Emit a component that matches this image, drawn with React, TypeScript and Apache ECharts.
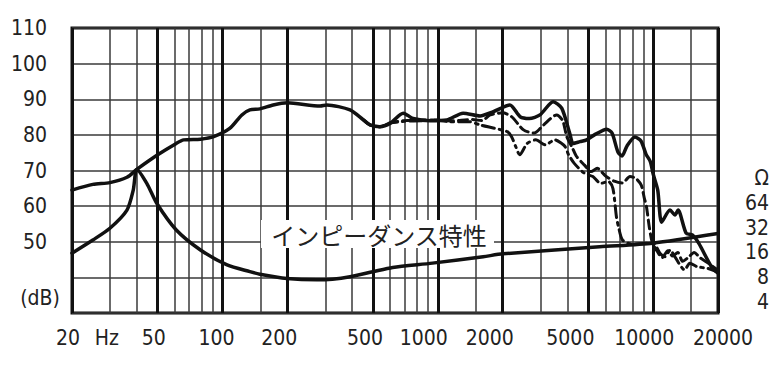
import React, { useEffect, useRef } from "react";
import * as echarts from "echarts";

// ---------- data ----------
const xTickLabels = [20, 50, 100, 200, 500, 1000, 2000, 5000, 10000, 20000];
const majorGridFreqs = [20, 50, 100, 200, 500, 1000, 2000, 5000, 10000, 20000];
const minorGridFreqs = [30, 40, 60, 70, 80, 90, 150, 300, 400, 600, 700, 800, 900, 1500, 3000, 4000, 6000, 7000, 8000, 9000, 15000];
const yTickLabels = [50, 60, 70, 80, 90, 100, 110];
const impedanceTickLabels = ["Ω", "64", "32", "16", "8", "4"];
const annotation = "インピーダンス特性";

const mainResponse: [number, number][] = [
  [20, 64.5], [25, 66.1], [30, 66.6], [36, 68.1], [40, 70.3], [50, 74.4], [61, 77.6], [66, 78.6],
  [79, 78.8], [91, 79.5], [108, 81.8], [123, 85.6], [134, 87.0], [149, 87.3], [172, 88.4], [200, 89.0],
  [284, 88.1], [305, 88.4], [391, 87.0], [451, 84.2], [484, 82.8], [538, 82.3], [600, 83.2], [691, 86.1],
  [767, 84.6], [920, 84.0], [1100, 84.2], [1310, 86.1], [1570, 85.3], [1810, 86.5], [2160, 88.4],
  [2410, 85.1], [2660, 84.6], [2980, 85.6], [3430, 89.3], [3760, 87.5], [4100, 80.4], [4250, 77.6],
  [4570, 78.1], [4910, 78.6], [5400, 80.2], [6080, 81.6], [6440, 80.5], [6860, 75.2], [7170, 74.1],
  [7560, 76.9], [8230, 79.4], [8780, 78.3], [9260, 74.6], [9700, 72.5], [10000, 69.0], [10500, 64.5],
  [10950, 55.5], [11970, 58.9], [12620, 57.5], [13050, 58.9], [14220, 52.4], [15200, 51.9],
  [16270, 49.6], [18640, 43.0], [20000, 41.2],
];

const dashedResponse: [number, number][] = [
  [451, 84.2], [484, 82.8], [538, 82.3], [600, 83.4], [700, 84.0], [850, 84.2], [1000, 84.2], [1138, 83.9],
  [1450, 84.3], [1600, 84.0], [1750, 85.6], [2000, 86.2], [2200, 85.1], [2500, 81.4], [2800, 80.5],
  [3100, 82.8], [3560, 85.6], [3800, 84.0], [3970, 79.5], [4190, 76.7], [4400, 74.0], [4800, 71.5],
  [5150, 69.7], [5500, 70.6], [6000, 68.5], [6600, 67.0], [7200, 66.5], [7800, 68.3], [8300, 67.8],
  [8800, 65.9], [9100, 62.2], [9300, 60.0], [9600, 54.0], [9900, 49.8], [10400, 47.5], [11000, 45.5],
  [11700, 47.5], [12300, 46.0], [13000, 47.0], [13700, 44.5], [14500, 45.5], [15500, 47.0],
  [16500, 45.5], [18000, 44.0], [20000, 42.0],
];

const dashDotResponse: [number, number][] = [
  [451, 84.2], [484, 82.8], [538, 82.3], [600, 83.3], [700, 83.8], [850, 84.0], [1000, 84.1], [1138, 83.7],
  [1400, 83.7], [1570, 82.8], [2100, 80.9], [2200, 79.5], [2300, 76.7], [2400, 74.4], [2600, 77.6],
  [2850, 78.6], [3150, 77.2], [3500, 78.6], [3760, 77.6], [3900, 76.7], [4050, 74.4], [4300, 72.0],
  [4800, 69.2], [5250, 68.3], [5700, 66.4], [6200, 66.9], [6500, 65.0], [6750, 57.0], [6900, 54.2],
  [7200, 50.5], [8000, 49.3], [9000, 49.5], [10000, 49.6], [10750, 46.8], [11350, 45.8], [12000, 47.7],
  [12600, 45.8], [14000, 42.1], [14800, 44.0], [16000, 43.0], [18000, 42.5], [20000, 41.5],
];

const impedance: [number, number][] = [
  [20, 46.8], [25, 50.5], [30, 53.8], [36, 58.9], [38.5, 64.5], [40, 70.3], [44.5, 66.4], [49.5, 60.8],
  [61, 53.3], [79, 47.7], [105, 43.5], [134, 41.6], [149, 40.9], [199, 39.7], [274, 39.3], [324, 39.5],
  [391, 40.2], [499, 41.6], [617, 42.8], [944, 44.0], [1624, 45.8], [2005, 46.6], [5640, 48.6],
  [9950, 49.6], [20000, 52.3],
];

// ---------- styles ----------
const FONT = '"DejaVu Sans Condensed", "Liberation Sans Narrow", sans-serif';
const INK = "#111";
const GRID_INK = "#3a3a3a";
const LABEL_SIZE = 21;
const LABEL_DX: Record<number, number> = {
  20: -4, 50: -4, 100: -6, 200: -8, 500: -8, 1000: -14, 2000: -13, 5000: -18, 10000: -9, 20000: 5,
};

export default function App() {
  const ref = useRef<HTMLDivElement>(null);

  useEffect(() => {
    if (!ref.current) return;
    const chart = echarts.init(ref.current, undefined, { renderer: "svg" });

    const labelFor = (text: string, dx: number) => ({
      show: true,
      formatter: text,
      position: "start",
      distance: 14,
      offset: [dx, 0],
      color: "#222",
      fontSize: LABEL_SIZE,
      fontFamily: FONT,
    });

    const gridLines: any[] = [
      ...minorGridFreqs.map((f) => ({
        xAxis: f,
        lineStyle: { color: GRID_INK, width: 1.5, type: "solid" },
        label: f === 30 ? labelFor("Hz", -3) : { show: false },
      })),
      ...majorGridFreqs.map((f) => ({
        xAxis: f,
        lineStyle: { color: INK, width: 3, type: "solid" },
        label: xTickLabels.includes(f) ? labelFor(String(f), LABEL_DX[f] ?? 0) : { show: false },
      })),
    ];

    const curve = (name: string, data: [number, number][], width: number, type: any, z: number) => ({
      name,
      type: "line",
      data,
      showSymbol: false,
      symbol: "none",
      smooth: 0.25,
      z,
      lineStyle: { color: INK, width, type, cap: "round", join: "round" },
      silent: true,
    });

    const rightLabelStart = 178;
    const rightLabelStep = 24.8;

    chart.setOption({
      animation: false,
      backgroundColor: "#fff",
      grid: {
        left: 72,
        right: 57,
        top: 28,
        bottom: 52,
        show: true,
        borderColor: INK,
        borderWidth: 3,
        backgroundColor: "transparent",
      },
      xAxis: {
        type: "log",
        logBase: 10,
        min: 20,
        max: 20000,
        axisLabel: { show: false },
        axisTick: { show: false },
        axisLine: { show: false },
        splitLine: { show: false },
      },
      yAxis: {
        type: "value",
        min: 30,
        max: 110,
        interval: 10,
        axisLine: { show: false },
        axisTick: { show: false },
        splitLine: { show: true, lineStyle: { color: GRID_INK, width: 1.5 } },
        axisLabel: {
          margin: 25,
          color: "#222",
          fontSize: LABEL_SIZE,
          fontFamily: FONT,
          formatter: (v: number) => (yTickLabels.includes(v) ? String(v) : ""),
        },
      },
      series: [
        {
          name: "grid",
          type: "line",
          data: [],
          z: 2,
          silent: true,
          markLine: {
            silent: true,
            symbol: ["none", "none"],
            animation: false,
            label: { show: false },
            emphasis: { disabled: true },
            data: gridLines,
          },
        },
        curve("impedance", impedance, 3.5, "solid", 5),
        curve("dashdot", dashDotResponse, 3, [12, 5, 2.5, 5], 5),
        curve("dashed", dashedResponse, 3, [9, 5], 5),
        curve("main", mainResponse, 3.5, "solid", 6),
      ],
      graphic: [
        {
          type: "text",
          x: 40,
          y: 298,
          z: 10,
          style: {
            text: "(dB)",
            fontSize: LABEL_SIZE,
            fontFamily: FONT,
            fill: "#222",
            align: "center",
            verticalAlign: "middle",
          },
        },
        ...impedanceTickLabels.map((t, i) => ({
          type: "text",
          x: 769,
          y: rightLabelStart + i * rightLabelStep,
          z: 10,
          style: {
            text: t,
            fontSize: LABEL_SIZE,
            fontFamily: FONT,
            fill: "#222",
            align: "right",
            verticalAlign: "middle",
          },
        })),
        {
          type: "group",
          z: 10,
          children: [
            {
              type: "rect",
              shape: { x: 261, y: 220, width: 233, height: 28 },
              style: { fill: "#fff" },
              z: 10,
            },
            {
              type: "text",
              x: 379,
              y: 234,
              z: 11,
              style: {
                text: annotation,
                fontSize: 24,
                fontFamily: '"Noto Sans CJK JP", sans-serif',
                fill: "#222",
                align: "center",
                verticalAlign: "middle",
              },
            },
          ],
        },
      ],
    });

    return () => chart.dispose();
  }, []);

  return (
    <div
      ref={ref}
      style={{ position: "fixed", left: 0, top: 0, width: 775, height: 365, background: "#fff" }}
    />
  );
}
